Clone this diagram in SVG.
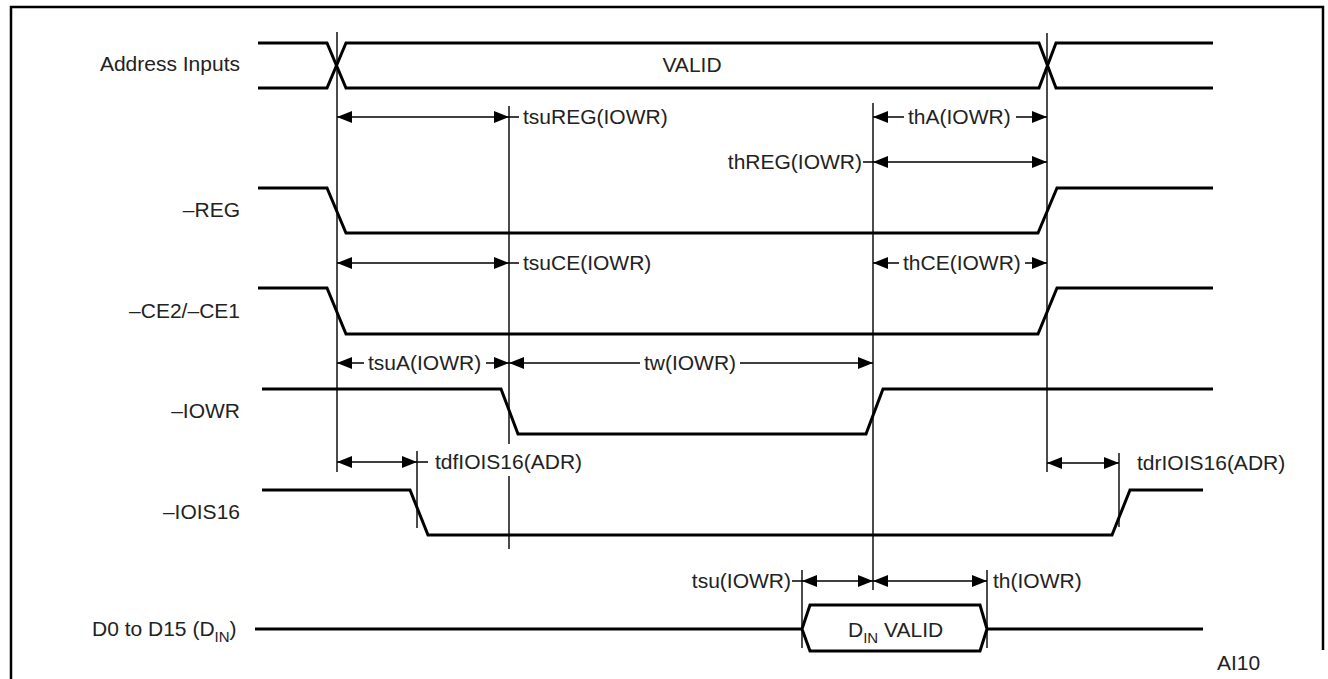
<svg xmlns="http://www.w3.org/2000/svg" width="1328" height="679" viewBox="0 0 1328 679">
<defs>
<style>
text{font-family:"Liberation Sans",Arial,sans-serif;font-size:21px;fill:#222}
.sig{fill:none;stroke:#000;stroke-width:3;stroke-linejoin:miter}
.thin{fill:none;stroke:#000;stroke-width:1.4}
.lbl{text-anchor:end}
.frame{fill:none;stroke:#000;stroke-width:2.5}
</style>
<path id="ahR" d="M0,0 L-15,-6 L-15,6 z" fill="#000"/>
<path id="ahL" d="M0,0 L15,-6 L15,6 z" fill="#000"/>
</defs>
<rect width="1328" height="679" fill="#fff"/>
<path class="frame" d="M11,679 V7 H1323 V650"/>

<g id="sig-address">
<text class="lbl" x="240" y="71">Address Inputs</text>
<path class="sig" d="M258,43 H327 L346,88 H1039 L1056,43 H1213"/>
<path class="sig" d="M258,88 H327 L346,43 H1039 L1056,88 H1213"/>
<text x="692" y="72" text-anchor="middle">VALID</text>
</g>
<g id="sig-reg">
<text class="lbl" x="240" y="217">–REG</text>
<path class="sig" d="M258,188 H327 L346,233 H1038 L1057,188 H1213"/>
</g>
<g id="sig-ce">
<text class="lbl" x="240" y="318">–CE2/–CE1</text>
<path class="sig" d="M258,288 H327 L346,334 H1038 L1057,288 H1213"/>
</g>
<g id="sig-iowr">
<text class="lbl" x="240" y="418">–IOWR</text>
<path class="sig" d="M262,389 H501 L518,434 H866 L883,389 H1213"/>
</g>
<g id="sig-iois16">
<text class="lbl" x="240" y="519">–IOIS16</text>
<path class="sig" d="M262,490 H410 L428,535 H1112 L1130,490 H1203"/>
</g>
<g id="sig-data">
<text x="92" y="636">D0 to D15 (D<tspan font-size="15" dy="6">IN</tspan><tspan dy="-6">)</tspan></text>
<path class="sig" d="M255,629 H802 M987,629 H1203"/>
<path class="sig" d="M802,629 L810,605 H980 L987,629 L980,651 H810 Z"/>
<text x="848" y="637">D<tspan font-size="15" dy="6">IN</tspan><tspan dy="-6"> VALID</tspan></text>
</g>

<g id="connectors">
<path class="thin" d="M337,32 V472 M509,106 V444 M509,476 V549 M873,103 V590 M1047,33 V472 M417,451 V528 M1119,453 V527 M802,570 V648 M987,570 V648"/>
<path class="thin" d="M509,117 H519 M509,263 H519 M863,162 H873 M417,462 H428 M792,581 H802"/>
<path class="thin" d="M337,117 H509 M873,117 H904 M1016,117 H1047 M873,162 H1047 M337,263 H509 M873,263 H899 M1025,263 H1047 M337,363 H364 M486,363 H509 M509,363 H640 M740,363 H873 M337,462 H417 M1047,463 H1119 M802,581 H873 M873,581 H987"/>
<use href="#ahL" x="337" y="117"/><use href="#ahR" x="509" y="117"/>
<use href="#ahL" x="873" y="117"/><use href="#ahR" x="1047" y="117"/>
<use href="#ahL" x="873" y="162"/><use href="#ahR" x="1047" y="162"/>
<use href="#ahL" x="337" y="263"/><use href="#ahR" x="509" y="263"/>
<use href="#ahL" x="873" y="263"/><use href="#ahR" x="1047" y="263"/>
<use href="#ahL" x="337" y="363"/><use href="#ahR" x="509" y="363"/>
<use href="#ahL" x="509" y="363"/><use href="#ahR" x="873" y="363"/>
<use href="#ahL" x="337" y="462"/><use href="#ahR" x="417" y="462"/>
<use href="#ahL" x="1047" y="463"/><use href="#ahR" x="1119" y="463"/>
<use href="#ahL" x="802" y="581"/><use href="#ahR" x="873" y="581"/>
<use href="#ahL" x="873" y="581"/><use href="#ahR" x="987" y="581"/>
</g>

<g id="labels">
<text x="523" y="124">tsuREG(IOWR)</text>
<text x="908" y="124">thA(IOWR)</text>
<text class="lbl" x="862" y="169">thREG(IOWR)</text>
<text x="523" y="270">tsuCE(IOWR)</text>
<text x="903" y="270">thCE(IOWR)</text>
<text x="368" y="370">tsuA(IOWR)</text>
<text x="690" y="370" text-anchor="middle">tw(IOWR)</text>
<text x="435" y="469">tdfIOIS16(ADR)</text>
<text x="1137" y="470">tdrIOIS16(ADR)</text>
<text class="lbl" x="791" y="588">tsu(IOWR)</text>
<text x="993" y="588">th(IOWR)</text>
<text x="1217" y="670" font-size="15">AI10</text>
</g>
</svg>
